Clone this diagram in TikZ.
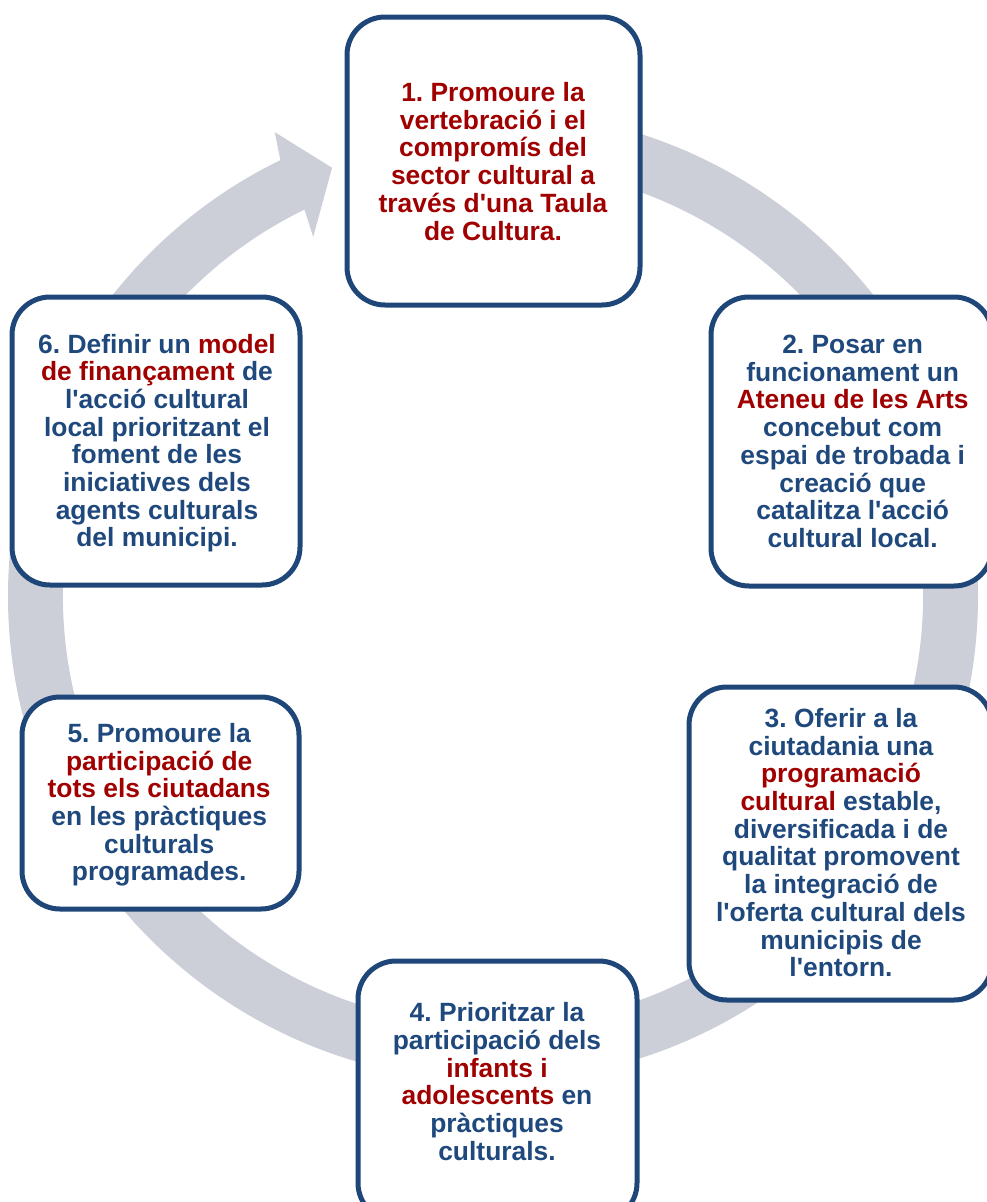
\documentclass[tikz,border=0pt]{standalone}
\usepackage{fontspec}
\usetikzlibrary{calc}
\newfontfamily\boxfont{Liberation Sans}
\definecolor{ringgray}{RGB}{204,206,216}
\definecolor{boxblue}{RGB}{31,70,120}
\definecolor{tblue}{RGB}{31,73,125}
\definecolor{tred}{RGB}{160,0,0}
\tikzset{
  boxst/.style={draw=boxblue, line width=5pt, fill=white, rounded corners=38pt, inner sep=0pt},
  txt/.style={align=center, inner sep=0pt, text=tblue,
    font={\boxfont\bfseries\fontsize{26.4}{27.7}\selectfont\lineskiplimit=-100pt\frenchspacing}}
}
\newcommand{\rd}[1]{\textcolor{tred}{#1}}
\frenchspacing
\begin{document}
\begin{tikzpicture}[x=1pt,y=1pt]
\useasboundingbox (0,0) rectangle (987,-1202);
\clip (0,0) rectangle (987,-1202);
\coordinate (c) at (493,-596);
% circular arrow
\fill[ringgray] ($(c)+(90:485)$) arc[start angle=90,end angle=-244,radius=485]
  -- ($(c)+(115.2:512.7)$) -- ($(c)+(110.6:457.5)$) -- ($(c)+(116.6:401.6)$)
  -- ($(c)+(116:430)$) arc[start angle=-244,end angle=90,radius=430] -- cycle;
% boxes
\node[boxst, minimum width=293, minimum height=288] (b1) at (493.5,-161) {};
\node[boxst, minimum width=281, minimum height=289] (b2) at (851.5,-441.5) {};
\node[boxst, minimum width=303, minimum height=313] (b3) at (840.5,-843.5) {};
\node[boxst, minimum width=279, minimum height=260] (b4) at (497.5,-1091) {};
\node[boxst, minimum width=277, minimum height=212] (b5) at (160.5,-803) {};
\node[boxst, minimum width=288, minimum height=288] (b6) at (156,-441) {};
% texts
\node[txt, text=tred] (t1) at (493,-165.3) {\strut 1. Promoure la\\vertebració i el\\compromís del\\sector cultural a\\través d'una Taula\\de Cultura.\strut};
\node[txt] (t2) at (852.7,-445) {\strut 2. Posar en\\funcionament un\\\rd{Ateneu de les Arts}\\concebut com\\espai de trobada i\\creació que\\catalitza l'acció\\cultural local.\strut};
\node[txt] (t3) at (841,-846.5) {\strut 3. Oferir a la\\ciutadania una\\\rd{programació}\\\rd{cultural} estable,\\diversificada i de\\qualitat promovent\\la integració de\\l'oferta cultural dels\\municipis de\\l'entorn.\strut};
\node[txt] (t4) at (497,-1085.5) {\strut 4. Prioritzar la\\participació dels\\\rd{infants i}\\\rd{adolescents} en\\pràctiques\\culturals.\strut};
\node[txt] (t5) at (159.2,-806) {\strut 5. Promoure la\\\rd{participació de}\\\rd{tots els ciutadans}\\en les pràctiques\\culturals\\programades.\strut};
\node[txt] (t6) at (157,-444.5) {\strut 6. Definir un \rd{model}\\\rd{de finançament} de\\l'acció cultural\\local prioritzant el\\foment de les\\iniciatives dels\\agents culturals\\del municipi.\strut};
\end{tikzpicture}
\end{document}
